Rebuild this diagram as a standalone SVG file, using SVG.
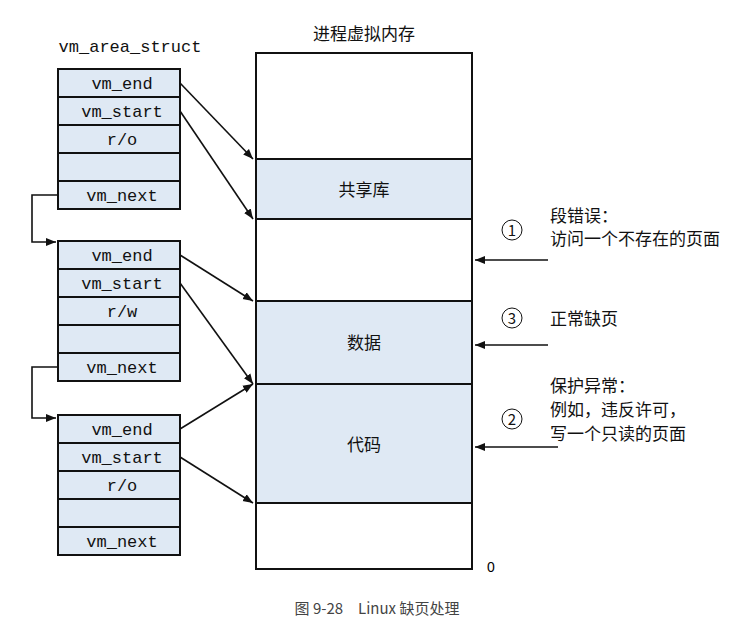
<svg xmlns="http://www.w3.org/2000/svg" width="754" height="644" viewBox="0 0 754 644">
<style>
.m{font-family:"Liberation Mono",monospace;font-size:17px;text-anchor:middle;fill:#111}
.c{font-family:"Noto Sans CJK SC",sans-serif;font-size:17px;fill:#111}
.cell{fill:#dfe9f4;stroke:#111;stroke-width:2}
.cw{fill:#fff;stroke:#111;stroke-width:2}
.ln{stroke:#111;stroke-width:1.6;fill:none}
</style>
<defs><marker id="a" viewBox="0 0 10 10" refX="10" refY="5" markerWidth="10" markerHeight="10" orient="auto" markerUnits="userSpaceOnUse"><path d="M0,1 L10,5 L0,9 z" fill="#111"/></marker></defs>
<rect width="754" height="644" fill="#fff"/>
<text class="m" x="130" y="52">vm_area_struct</text>
<g id="s1">
<rect class="cell" x="58" y="69" width="122" height="28"/><text class="m" x="122" y="89">vm_end</text>
<rect class="cell" x="58" y="97" width="122" height="28"/><text class="m" x="122" y="117">vm_start</text>
<rect class="cell" x="58" y="125" width="122" height="28"/><text class="m" x="122" y="145">r/o</text>
<rect class="cell" x="58" y="153" width="122" height="28"/>
<rect class="cell" x="58" y="181" width="122" height="28"/><text class="m" x="122" y="201">vm_next</text>
</g>
<g id="s2">
<rect class="cell" x="58" y="241" width="122" height="28"/><text class="m" x="122" y="261">vm_end</text>
<rect class="cell" x="58" y="269" width="122" height="28"/><text class="m" x="122" y="289">vm_start</text>
<rect class="cell" x="58" y="297" width="122" height="28"/><text class="m" x="122" y="317">r/w</text>
<rect class="cell" x="58" y="325" width="122" height="28"/>
<rect class="cell" x="58" y="353" width="122" height="28"/><text class="m" x="122" y="373">vm_next</text>
</g>
<g id="s3">
<rect class="cell" x="58" y="415" width="122" height="28"/><text class="m" x="122" y="435">vm_end</text>
<rect class="cell" x="58" y="443" width="122" height="28"/><text class="m" x="122" y="463">vm_start</text>
<rect class="cell" x="58" y="471" width="122" height="28"/><text class="m" x="122" y="491">r/o</text>
<rect class="cell" x="58" y="499" width="122" height="28"/>
<rect class="cell" x="58" y="527" width="122" height="28"/><text class="m" x="122" y="547">vm_next</text>
</g>
<g id="mem">
<text class="c" x="364" y="40" text-anchor="middle">进程虚拟内存</text>
<rect class="cw" x="256" y="53" width="216" height="516"/>
<rect class="cell" x="256" y="159" width="216" height="60"/><text class="c" x="364" y="196" text-anchor="middle">共享库</text>
<rect class="cell" x="256" y="301" width="216" height="83"/><text class="c" x="364" y="349" text-anchor="middle">数据</text>
<rect class="cell" x="256" y="384" width="216" height="119"/><text class="c" x="364" y="451" text-anchor="middle">代码</text>
<text x="487" y="572" style="font-family:'Liberation Sans',sans-serif;font-size:14px">0</text>
</g>
<g id="notes" class="c">
<circle cx="512" cy="230" r="10" fill="none" stroke="#111"/><text x="512" y="236" text-anchor="middle" font-size="15">1</text>
<text x="550" y="222">段错误：</text><text x="550" y="245">访问一个不存在的页面</text>
<circle cx="512" cy="318" r="10" fill="none" stroke="#111"/><text x="512" y="324" text-anchor="middle" font-size="15">3</text>
<text x="550" y="325">正常缺页</text>
<circle cx="512" cy="419" r="10" fill="none" stroke="#111"/><text x="512" y="425" text-anchor="middle" font-size="15">2</text>
<text x="550" y="392">保护异常：</text><text x="550" y="416">例如，违反许可，</text><text x="550" y="440">写一个只读的页面</text>
</g>
<g id="connectors" class="ln">
<line x1="180" y1="83" x2="253" y2="159" marker-end="url(#a)"/>
<line x1="180" y1="111" x2="253" y2="219" marker-end="url(#a)"/>
<line x1="180" y1="255" x2="253" y2="301" marker-end="url(#a)"/>
<line x1="180" y1="283" x2="253" y2="384" marker-end="url(#a)"/>
<line x1="180" y1="429" x2="253" y2="384" marker-end="url(#a)"/>
<line x1="180" y1="457" x2="253" y2="503" marker-end="url(#a)"/>
<polyline points="58,195 32,195 32,242 56,242" marker-end="url(#a)"/>
<polyline points="58,367 32,367 32,418 56,418" marker-end="url(#a)"/>
<line x1="548" y1="260" x2="475" y2="260" marker-end="url(#a)"/>
<line x1="548" y1="345" x2="475" y2="345" marker-end="url(#a)"/>
<line x1="558" y1="447" x2="475" y2="447" marker-end="url(#a)"/>
</g>
<text x="377" y="614" text-anchor="middle" style="font-family:'Noto Sans CJK SC',sans-serif;font-size:15px;fill:#444">图 9-28　Linux 缺页处理</text>
</svg>
